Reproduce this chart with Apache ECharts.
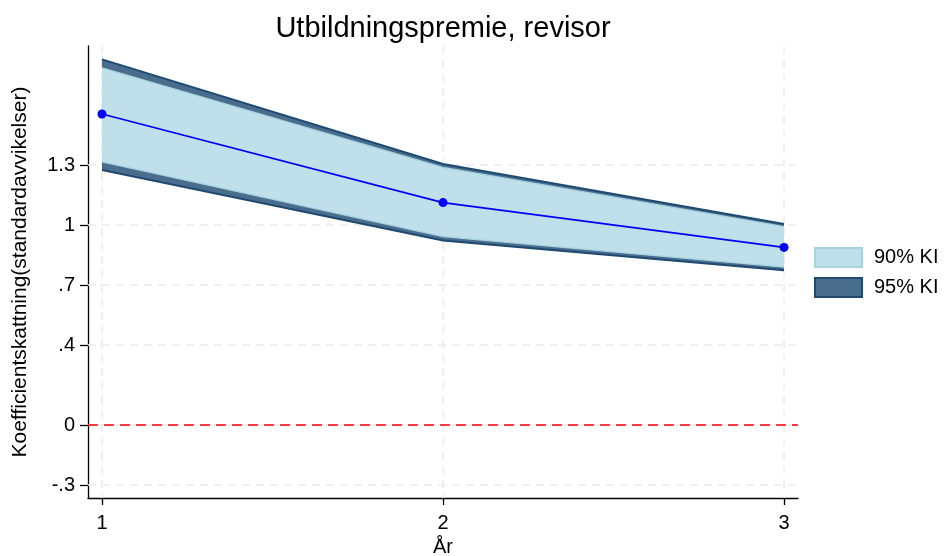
<!DOCTYPE html>
<html><head><meta charset="utf-8">
<script src="https://cdn.jsdelivr.net/npm/echarts@6/dist/echarts.min.js"></script>
<style>html,body{margin:0;padding:0;background:#fff}#c{width:944px;height:556px}</style>
</head><body><div id="c"></div>
<script>
const years = [1, 2, 3];
const estimate = [1.555, 1.112, 0.888];
const lower95 = [1.275, 0.922, 0.774];
const upper95 = [1.828, 1.305, 1.005];
const lower90 = [1.316, 0.942, 0.789];
const upper90 = [1.786, 1.288, 0.992];
const yTicks = [-0.3, 0, 0.4, 0.7, 1, 1.3];
const xTicks = [1, 2, 3];

const FONT = '"Liberation Sans", Arial, Helvetica, sans-serif';
const FS = 20;
const fmtY = v => {
  const s = String(Math.round(v * 10) / 10);
  return s.replace(/^(-?)0\./, '$1.');
};

function bandSeries(name, lo, hi, fill, stroke, sw, z) {
  return {
    name: name, type: 'custom', z: z, silent: true,
    itemStyle: { color: fill, borderColor: stroke, borderWidth: sw },
    data: years.map((x, i) => [x, lo[i], hi[i]]),
    encode: { x: 0, y: [1, 2] },
    renderItem: function (params, api) {
      if (params.dataIndex !== 0) return null;
      const top = years.map((x, i) => api.coord([x, hi[i]]));
      const bot = years.map((x, i) => api.coord([x, lo[i]]));
      const poly = top.concat(bot.slice().reverse());
      return {
        type: 'group',
        children: [
          { type: 'polygon', shape: { points: poly }, style: { fill: fill, stroke: null } },
          { type: 'polyline', shape: { points: top }, style: { fill: null, stroke: stroke, lineWidth: sw } },
          { type: 'polyline', shape: { points: bot }, style: { fill: null, stroke: stroke, lineWidth: sw } }
        ]
      };
    }
  };
}

function gridSeries(vals, isX) {
  return {
    type: 'custom', z: 1, silent: true,
    data: vals.map(v => [v]),
    encode: isX ? { x: 0 } : { y: 0 },
    renderItem: function (params, api) {
      const cs = params.coordSys;
      const v = api.value(0);
      let shape;
      if (isX) {
        const px = api.coord([v, 0])[0];
        shape = { x1: px, y1: cs.y, x2: px, y2: cs.y + cs.height };
      } else {
        const py = api.coord([1, v])[1];
        shape = { x1: cs.x, y1: py, x2: cs.x + cs.width, y2: py };
      }
      return { type: 'line', shape: shape, style: { stroke: '#ebebeb', lineWidth: 1.5, lineDash: [8, 6] } };
    }
  };
}

const chart = echarts.init(document.getElementById('c'), null, { renderer: 'canvas' });
chart.setOption({
  animation: false,
  backgroundColor: '#ffffff',
  textStyle: { fontFamily: FONT },
  title: {
    text: 'Utbildningspremie, revisor',
    left: 438, top: 9, textAlign: 'center',
    textStyle: { fontFamily: FONT, fontSize: 29, fontWeight: 'normal', color: '#000' }
  },
  legend: {
    orient: 'vertical', left: 809, top: 242, itemWidth: 47, itemHeight: 19, itemGap: 9,
    selectedMode: false,
    textStyle: { fontFamily: FONT, fontSize: FS, color: '#000', padding: [0, 0, 0, 7] },
    data: [
      { name: '90% KI', icon: 'rect', itemStyle: { color: '#bfe0ea', borderColor: '#a6d3e0', borderWidth: 2 } },
      { name: '95% KI', icon: 'rect', itemStyle: { color: '#4a6d8d', borderColor: '#1e4a72', borderWidth: 2 } }
    ]
  },
  grid: { left: 88, right: 146, top: 46, bottom: 58, containLabel: false, outerBoundsMode: 'none' },
  xAxis: {
    type: 'value', min: 0.959, max: 3.041,
    name: 'År', nameLocation: 'middle', nameGap: 38,
    nameTextStyle: { fontFamily: FONT, fontSize: FS, color: '#000' },
    axisLine: { show: true, onZero: false, lineStyle: { color: '#000', width: 1.3 } },
    axisTick: { show: true, customValues: xTicks, length: 7, lineStyle: { color: '#000', width: 1.3 } },
    axisLabel: { customValues: xTicks, margin: 15, fontFamily: FONT, fontSize: FS, color: '#000' },
    splitLine: { show: false }
  },
  yAxis: {
    type: 'value', min: -0.365, max: 1.895,
    name: 'Koefficientskattning(standardavvikelser)', nameLocation: 'middle', nameGap: 57,
    nameTextStyle: { fontFamily: FONT, fontSize: 21, color: '#000' },
    axisLine: { show: true, onZero: false, lineStyle: { color: '#000', width: 1.3 } },
    axisTick: { show: true, customValues: yTicks, length: 8, lineStyle: { color: '#000', width: 1.3 } },
    axisLabel: { customValues: yTicks, margin: 13, formatter: fmtY, fontFamily: FONT, fontSize: FS, color: '#000' },
    splitLine: { show: false }
  },
  series: [
    gridSeries(yTicks, false),
    gridSeries(xTicks, true),
    bandSeries('95% KI', lower95, upper95, '#4a6d8d', '#1e4a72', 2, 2),
    bandSeries('90% KI', lower90, upper90, '#bfe0ea', '#a6d3e0', 1.2, 3),
    {
      type: 'line', name: 'zero', data: [], z: 4, silent: true,
      markLine: {
        silent: true, symbol: 'none', label: { show: false },
        lineStyle: { color: '#ff0000', type: [10, 6], width: 1.5 },
        data: [{ yAxis: 0 }]
      }
    },
    {
      type: 'line', name: 'Skattning', z: 5, silent: true,
      data: years.map((x, i) => [x, estimate[i]]),
      symbol: 'circle', symbolSize: 9, showSymbol: true,
      lineStyle: { color: '#0000ff', width: 1.8 },
      itemStyle: { color: '#0000ff' }
    }
  ]
});
</script>
</body></html>
